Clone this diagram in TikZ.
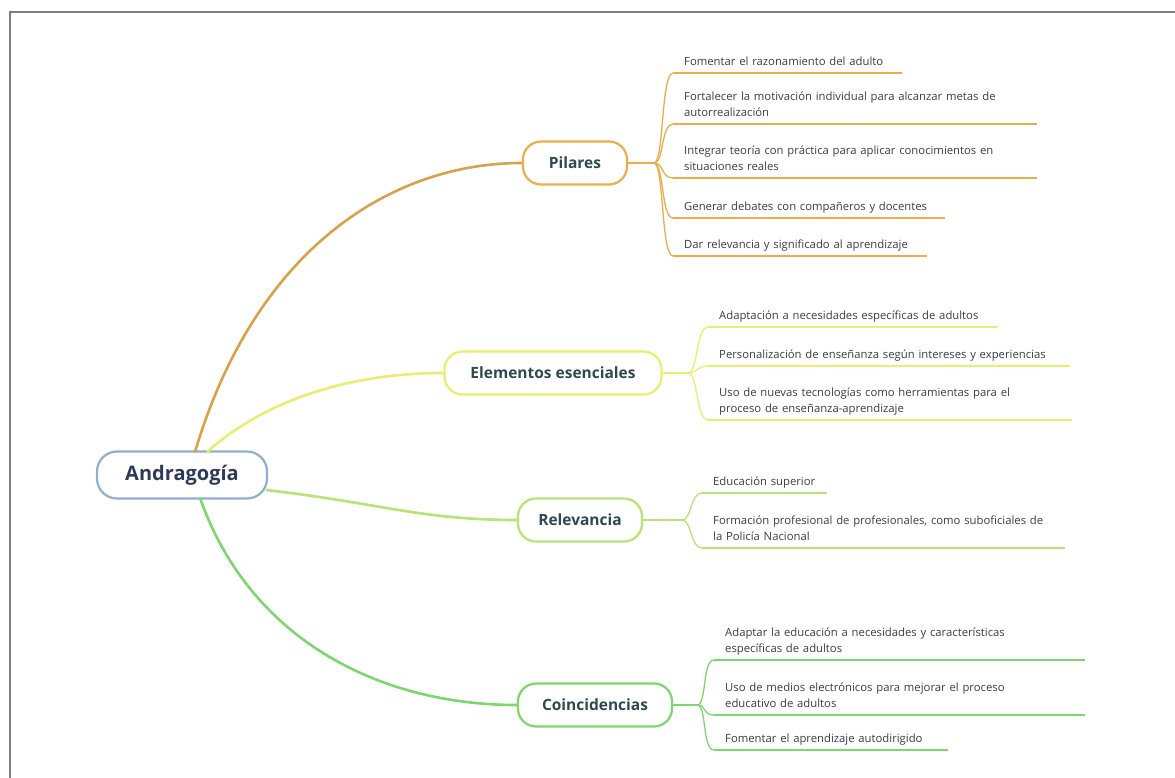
\documentclass[tikz,border=0pt]{standalone}
\usepackage{fontspec}
\setmainfont{Open Sans}
\usetikzlibrary{calc}
\definecolor{frame}{HTML}{7E7E7E}
\definecolor{cenb}{HTML}{8EB0CC}
\definecolor{cent}{HTML}{2D3A5A}
\definecolor{subt}{HTML}{2E4A50}
\definecolor{leaft}{HTML}{3C3C48}
\definecolor{cpil}{HTML}{EBAE4A}
\definecolor{cpilm}{HTML}{D9A24A}
\definecolor{cele}{HTML}{E9EE6E}
\definecolor{crel}{HTML}{B9E277}
\definecolor{ccoi}{HTML}{7ED66E}
\tikzset{
  central/.style={draw=cenb, line width=2.2pt, fill=white, rounded corners=20pt,
    minimum width=170pt, minimum height=47pt, text=cent,
    font=\fontsize{20}{22}\selectfont\bfseries},
  subtopic/.style={draw=#1, line width=2.2pt, fill=white, rounded corners=18pt,
    minimum height=43pt, text=subt, font=\fontsize{15.5}{17}\selectfont\bfseries},
  leaf/.style={anchor=south west, inner xsep=11pt, inner ysep=2.5pt, align=left,
    text width=#1, text=leaft, font=\fontsize{11.3}{16}\selectfont,
    execute at end node=\strut},
  under/.style={draw=#1, line width=2.2pt},
  branch/.style={draw=#1, line width=1.3pt},
  mainc/.style={draw=#1, line width=2.6pt},
}
\begin{document}
\begin{tikzpicture}[x=1pt,y=-1pt]
\useasboundingbox (0,0) rectangle (1175,778);
\fill[white] (0,0) rectangle (1175,778);
\draw[frame, line width=2.2pt] (10,778) -- (10,12) -- (1175,12);

% central and subtopics
\node[central] (c) at (182,475) {Andragogía};
\node[subtopic=cpil, minimum width=104pt] (pil) at (575,163) {Pilares};
\node[subtopic=cele, minimum width=217pt] (ele) at (553,373) {Elementos esenciales};
\node[subtopic=crel, minimum width=124pt] (rel) at (580,520) {Relevancia};
\node[subtopic=ccoi, minimum width=154pt] (coi) at (595,705) {Coincidencias};

\coordinate (c1) at (195,452);
\coordinate (c2) at (207,452);
\coordinate (c3) at (266,490);
\coordinate (c4) at (200,498);

\draw[mainc=cpilm] (c1) .. controls (255,250) and (390,163) .. (pil.west);
\draw[mainc=cele] (c2) .. controls (265,400) and (350,373) .. (ele.west);
\draw[mainc=crel] (c3) .. controls (380,503) and (420,520) .. (rel.west);
\draw[mainc=ccoi] (c4) .. controls (250,640) and (380,705) .. (coi.west);

% Pilares leaves
\coordinate (pb) at (654,163);
\node[leaf=207pt] (p1) at (673,73) {Fomentar el razonamiento del adulto};
\node[leaf=342pt] (p2) at (673,124) {Fortalecer la motivación individual para alcanzar metas de\\autorrealización};
\node[leaf=342pt] (p3) at (673,178) {Integrar teoría con práctica para aplicar conocimientos en\\situaciones reales};
\node[leaf=250pt] (p4) at (673,218) {Generar debates con compañeros y docentes};
\node[leaf=232pt] (p5) at (673,256) {Dar relevancia y significado al aprendizaje};
\draw[branch=cpil] (pil.east) -- (pb);
\foreach \n in {p1,p2,p3,p4,p5}{
  \draw[branch=cpil] (pb) .. controls +(10,0) and +(-12,0) .. (\n.south west);
  \draw[under=cpil] (\n.south west) -- (\n.south east);
}

% Elementos leaves
\coordinate (eb) at (688,373);
\node[leaf=268pt] (e1) at (708,327) {Adaptación a necesidades específicas de adultos};
\node[leaf=340pt] (e2) at (708,366) {Personalización de enseñanza según intereses y experiencias};
\node[leaf=342pt] (e3) at (708,420) {Uso de nuevas tecnologías como herramientas para el\\proceso de enseñanza-aprendizaje};
\draw[branch=cele] (ele.east) -- (eb);
\foreach \n in {e1,e2,e3}{
  \draw[branch=cele] (eb) .. controls +(10,0) and +(-12,0) .. (\n.south west);
  \draw[under=cele] (\n.south west) -- (\n.south east);
}

% Relevancia leaves
\coordinate (rb) at (682,520);
\node[leaf=103pt] (r1) at (702,493) {Educación superior};
\node[leaf=341pt] (r2) at (702,548) {Formación profesional de profesionales, como suboficiales de\\la Policía Nacional};
\draw[branch=crel] (rel.east) -- (rb);
\foreach \n in {r1,r2}{
  \draw[branch=crel] (rb) .. controls +(10,0) and +(-12,0) .. (\n.south west);
  \draw[under=crel] (\n.south west) -- (\n.south east);
}

% Coincidencias leaves
\coordinate (kb) at (697,705);
\node[leaf=349pt] (k1) at (714,660) {Adaptar la educación a necesidades y características\\específicas de adultos};
\node[leaf=349pt] (k2) at (714,715) {Uso de medios electrónicos para mejorar el proceso\\educativo de adultos};
\node[leaf=212pt] (k3) at (714,750) {Fomentar el aprendizaje autodirigido};
\draw[branch=ccoi] (coi.east) -- (kb);
\foreach \n in {k1,k2,k3}{
  \draw[branch=ccoi] (kb) .. controls +(10,0) and +(-12,0) .. (\n.south west);
  \draw[under=ccoi] (\n.south west) -- (\n.south east);
}
\end{tikzpicture}
\end{document}
